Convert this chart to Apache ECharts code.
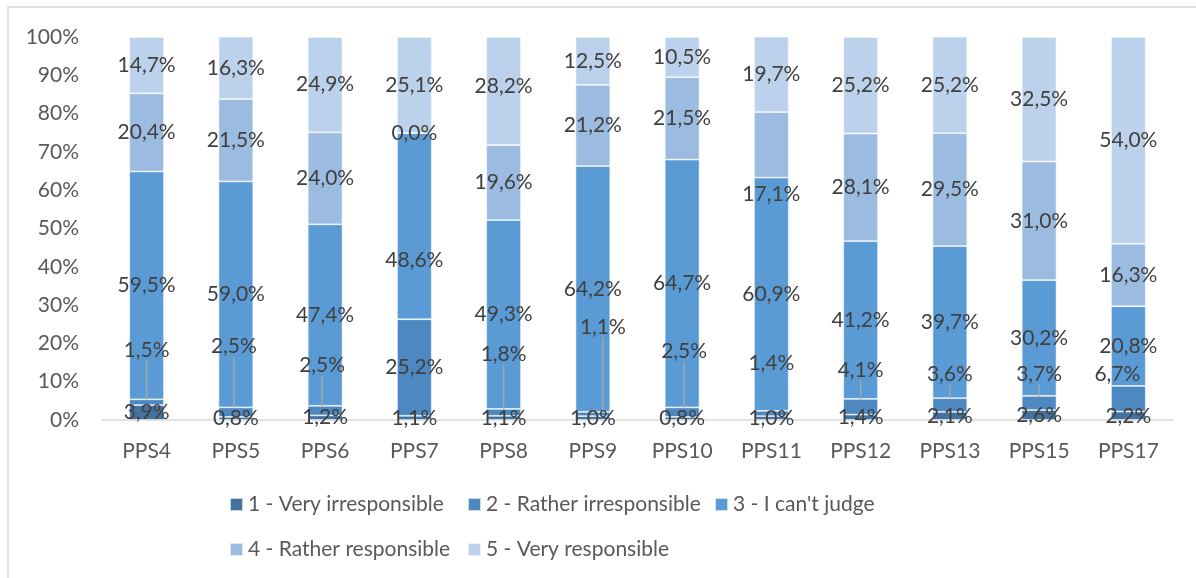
<!DOCTYPE html>
<html>
<head>
<meta charset="utf-8">
<script src="https://cdn.jsdelivr.net/npm/echarts@6/dist/echarts.min.js"></script>
<style>
  html, body { margin: 0; padding: 0; background: #fff; }
  #chart { width: 1196px; height: 578px; }
</style>
</head>
<body>
<div id="chart"></div>
<script>
// Survey answers per item, share of respondents in percent
const categories = ['PPS4', 'PPS5', 'PPS6', 'PPS7', 'PPS8', 'PPS9', 'PPS10', 'PPS11', 'PPS12', 'PPS13', 'PPS15', 'PPS17'];
const seriesNames = ['1 - Very irresponsible', '2 - Rather irresponsible', "3 - I can't judge", '4 - Rather responsible', '5 - Very responsible'];
const veryIrresponsible   = [3.9, 0.8, 1.2, 1.1, 1.1, 1.0, 0.8, 1.0, 1.4, 2.1, 2.6, 2.2];
const ratherIrresponsible = [1.5, 2.5, 2.5, 25.2, 1.8, 1.1, 2.5, 1.4, 4.1, 3.6, 3.7, 6.7];
const cantJudge           = [59.5, 59.0, 47.4, 48.6, 49.3, 64.2, 64.7, 60.9, 41.2, 39.7, 30.2, 20.8];
const ratherResponsible   = [20.4, 21.5, 24.0, 0.0, 19.6, 21.2, 21.5, 17.1, 28.1, 29.5, 31.0, 16.3];
const veryResponsible     = [14.7, 16.3, 24.9, 25.1, 28.2, 12.5, 10.5, 19.7, 25.2, 25.2, 32.5, 54.0];
const yTicks = { min: 0, max: 100, step: 10 };

const seriesValues = [veryIrresponsible, ratherIrresponsible, cantJudge, ratherResponsible, veryResponsible];
const colors = ['#44729E', '#4D88C1', '#5B9BD5', '#9BBBE0', '#BCD1EB'];

// Hand-placed labels for thin segments: [seriesIndex][dataIndex] -> [dx, dy, showLeaderLine]
const labelShift = {
  1: {
    0: [0, -52, true], 1: [-2, -66, true], 2: [-3, -45, true], 4: [0, -58, true],
    5: [10, -87, true], 6: [2, -61, true], 7: [0, -50, false], 8: [0, -37, true],
    9: [0, -31, true], 10: [0, -29, true], 11: [-11, -25, false]
  },
  2: { 3: [0, 34, false] },
  3: { 7: [0, 49, false] },
  4: { 4: [0, -5, false] }
};

// Drawing order: bottom segments on top so their labels and leader lines are not hidden
const seriesZ = [5, 4, 2, 2, 2];

const fmt = v => v.toFixed(1).replace('.', ',') + '%';
const font = 'Lato, "Open Sans", sans-serif';

const series = seriesValues.map((vals, si) => ({
  name: seriesNames[si],
  type: 'bar',
  stack: 'total',
  barWidth: '39%',
  z: seriesZ[si],
  itemStyle: { color: colors[si], borderColor: 'rgba(255,255,255,0.7)', borderWidth: 0.8 },
  label: {
    show: true,
    position: 'inside',
    formatter: p => fmt(p.value),
    fontFamily: font,
    fontSize: 21,
    color: '#404040'
  },
  labelLine: { show: true, lineStyle: { color: '#A6A6A6', width: 1.5 } },
  labelLayout: p => {
    const s = labelShift[si] && labelShift[si][p.dataIndex];
    return s ? { dx: s[0], dy: s[1] } : {};
  },
  data: vals.map((v, di) => {
    const s = labelShift[si] && labelShift[si][di];
    return { value: v, labelLine: { show: !!(s && s[2]) } };
  })
}));

// One legend block per entry so the two rows line up in columns
const legendSpots = [[229, 494], [467, 494], [714, 494], [229, 539], [467, 539]];
const legend = seriesNames.map((name, i) => ({
  data: [name],
  left: legendSpots[i][0],
  top: legendSpots[i][1],
  padding: 0,
  icon: 'rect',
  itemWidth: 13,
  itemHeight: 13,
  selectedMode: false,
  textStyle: { fontFamily: font, fontSize: 21, color: '#595959', lineHeight: 20 }
}));

const chart = echarts.init(document.getElementById('chart'), null, { renderer: 'canvas' });
chart.setOption({
  animation: false,
  backgroundColor: '#fff',
  color: colors,
  graphic: [{
    type: 'rect',
    shape: { x: 8, y: 7, width: 1300, height: 700 },
    style: { fill: 'none', stroke: '#D9D9D9', lineWidth: 1.5 },
    silent: true
  }],
  legend,
  grid: { left: 102, right: 23, top: 37, bottom: 158 },
  xAxis: {
    type: 'category',
    data: categories,
    axisLine: { lineStyle: { color: '#D9D9D9', width: 1.5 } },
    axisTick: { show: false },
    axisLabel: { fontFamily: font, fontSize: 21, color: '#595959', margin: 21 }
  },
  yAxis: {
    type: 'value',
    min: yTicks.min,
    max: yTicks.max,
    interval: yTicks.step,
    axisLine: { show: false },
    axisTick: { show: false },
    splitLine: { show: false },
    axisLabel: { fontFamily: font, fontSize: 21, color: '#595959', margin: 23, formatter: '{value}%' }
  },
  series
});
</script>
</body>
</html>
